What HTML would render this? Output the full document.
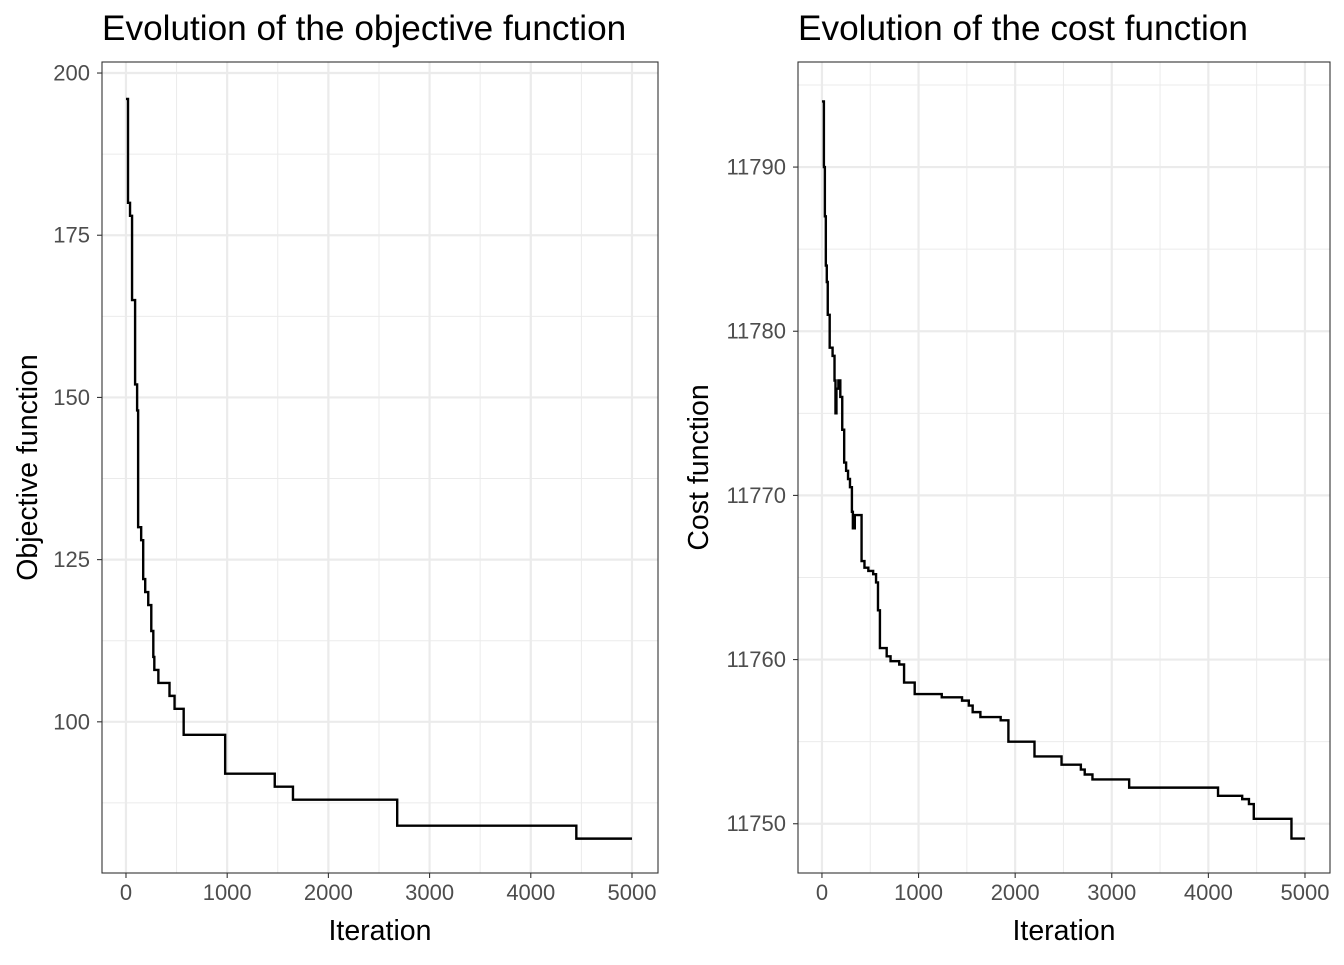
<!DOCTYPE html>
<html><head><meta charset="utf-8"><style>
body{margin:0;background:#fff;font-family:"Liberation Sans",sans-serif}
svg text{font-family:"Liberation Sans",sans-serif}
</style></head><body>
<svg id="c" width="1344" height="960"></svg>
<script>
const objIter=[0,20,40,60,90,110,120,150,170,190,220,250,270,280,320,430,480,570,980,1470,1650,2680,4450,5000];
const objVal=[196,180,178,165,152,148,130,128,122,120,118,114,110,108,106,104,102,98,92,90,88,84,82,82];
const costIter=[0,20,30,40,50,60,80,110,130,140,150,170,190,210,230,250,270,290,310,320,340,410,440,480,530,560,580,600,670,710,800,850,960,1240,1450,1520,1560,1640,1850,1930,2200,2480,2680,2720,2800,3180,4100,4350,4420,4470,4860,5000];
const costVal=[11794,11790,11787,11784,11783,11781,11779,11778.5,11777,11775,11776.5,11777,11776,11774,11772,11771.5,11771,11770.5,11769,11768,11768.8,11766,11765.6,11765.4,11765.2,11764.7,11763,11760.7,11760.2,11759.9,11759.7,11758.6,11757.9,11757.7,11757.5,11757.2,11756.8,11756.5,11756.3,11755,11754.1,11753.6,11753.3,11753,11752.7,11752.2,11751.7,11751.5,11751.2,11750.3,11749.1,11749.1];
const xTicks=[0,1000,2000,3000,4000,5000];
const xMinor=[500,1500,2500,3500,4500];
const objYTicks=[100,125,150,175,200];
const objYMinor=[87.5,112.5,137.5,162.5,187.5];
const costYTicks=[11750,11760,11770,11780,11790];
const costYMinor=[11755,11765,11775,11785,11795];
const NS='http://www.w3.org/2000/svg';
const svg=document.getElementById('c');
function mk(tag,attrs,parent){const e=document.createElementNS(NS,tag);for(const k in attrs)e.setAttribute(k,attrs[k]);(parent||svg).appendChild(e);return e;}
function panel(p){
  const g=mk('g',{});
  
  
  const sx=v=>p.x0+(v-p.xd[0])/(p.xd[1]-p.xd[0])*(p.x1-p.x0);
  const sy=v=>p.y1-(v-p.yd[0])/(p.yd[1]-p.yd[0])*(p.y1-p.y0);
  p.yMinor.forEach(v=>mk('line',{x1:p.x0,x2:p.x1,y1:sy(v),y2:sy(v),stroke:'#ebebeb','stroke-width':1},g));
  xMinor.forEach(v=>mk('line',{x1:sx(v),x2:sx(v),y1:p.y0,y2:p.y1,stroke:'#ebebeb','stroke-width':1},g));
  p.yTicks.forEach(v=>{
    mk('line',{x1:p.x0,x2:p.x1,y1:sy(v),y2:sy(v),stroke:'#ebebeb','stroke-width':2.2},g);
    mk('line',{x1:p.x0-5,x2:p.x0,y1:sy(v),y2:sy(v),stroke:'#333','stroke-width':1.1},g);
    const t=mk('text',{x:p.x0-12,y:sy(v)+7.5,'text-anchor':'end','font-size':22,fill:'#4d4d4d'},g);t.textContent=v;
    
    
  });
  xTicks.forEach(v=>{
    mk('line',{x1:sx(v),x2:sx(v),y1:p.y0,y2:p.y1,stroke:'#ebebeb','stroke-width':2.2},g);
    mk('line',{x1:sx(v),x2:sx(v),y1:p.y1,y2:p.y1+5,stroke:'#333','stroke-width':1.1},g);
    const t=mk('text',{x:sx(v),y:p.y1+27,'text-anchor':'middle','font-size':22,fill:'#4d4d4d'},g);t.textContent=v;
    
    
  });
  let d='';
  for(let i=0;i<p.xs.length;i++){
    const X=sx(p.xs[i]),Y=sy(p.ys[i]);
    if(i===0)d+='M'+X+','+Y;else d+='H'+X+'V'+Y;
  }
  const path=mk('path',{d:d,fill:'none',stroke:'#000','stroke-width':2.4},g);
  
  
  mk('rect',{x:p.x0,y:p.y0,width:p.x1-p.x0,height:p.y1-p.y0,fill:'none',stroke:'#333','stroke-width':1.1},g);
  const tt=mk('text',{x:p.x0,y:40,'font-size':35.2,fill:'#000'},g);tt.textContent=p.title;
  
  
  const xt=mk('text',{x:(p.x0+p.x1)/2,y:940,'text-anchor':'middle','font-size':28.5,fill:'#000'},g);xt.textContent='Iteration';
  
  
  const cy=(p.y0+p.y1)/2;
  const yt=mk('text',{x:p.ytx,y:cy,'text-anchor':'middle','font-size':28.5,fill:'#000',transform:'rotate(-90 '+p.ytx+' '+cy+')'},g);yt.textContent=p.ytitle;
  
  
}
panel({name:'objective-panel',x0:102,x1:658,y0:62,y1:873,xd:[-237,5257],yd:[76.7,201.7],xs:objIter,ys:objVal,yTicks:objYTicks,yMinor:objYMinor,title:'Evolution of the objective function',ytitle:'Objective function',ytx:37});
panel({name:'cost-panel',x0:798,x1:1330,y0:62,y1:873,xd:[-248,5259],yd:[11747.0,11796.4],xs:costIter,ys:costVal,yTicks:costYTicks,yMinor:costYMinor,title:'Evolution of the cost function',ytitle:'Cost function',ytx:708});
</script>
</body></html>
